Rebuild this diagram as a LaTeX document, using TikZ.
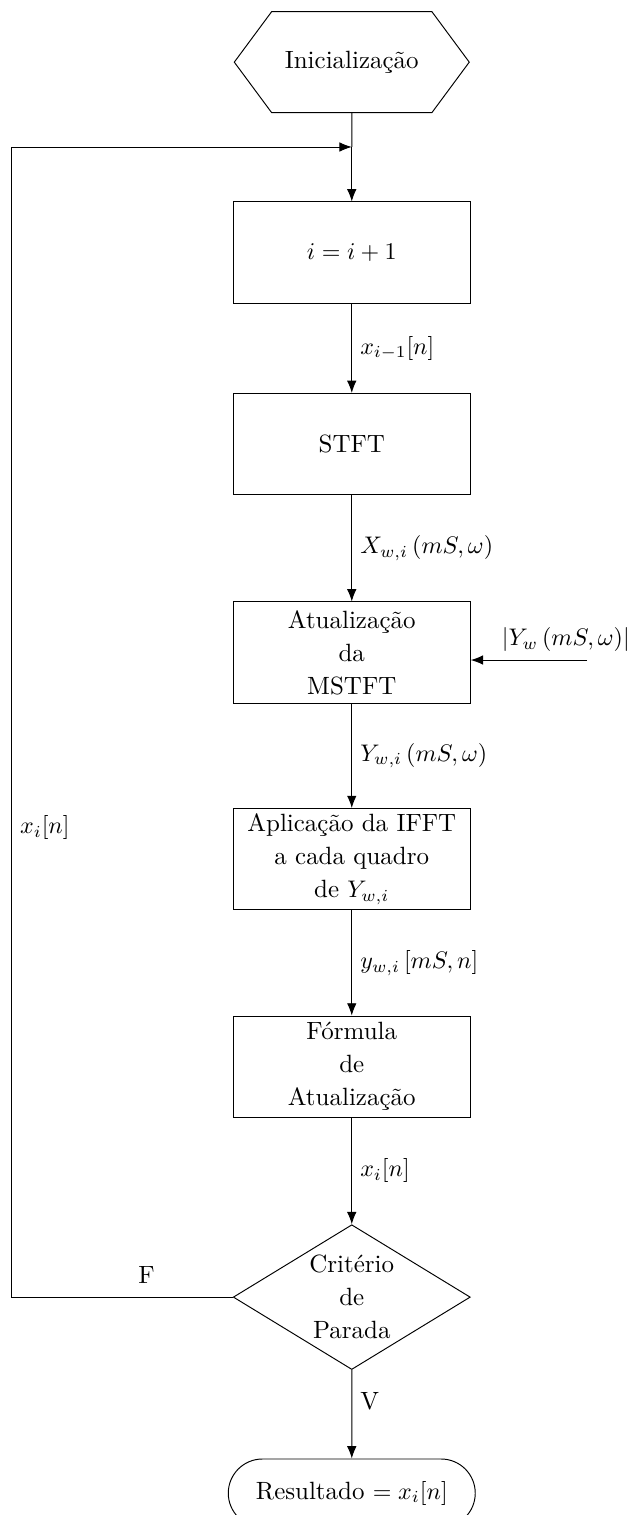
\documentclass[tikz,border=0pt]{standalone}
\usepackage{amsmath}
\usetikzlibrary{arrows.meta,shapes.geometric,shapes.misc,shapes.symbols}
\begin{document}
\begin{tikzpicture}[
  every node/.style={font=\fontsize{10.4}{13.7}\selectfont},
  box/.style={draw,align=center,minimum width=3.47cm,minimum height=1.48cm,inner sep=2pt},
  hexa/.style={draw,signal,signal to=west and east,signal pointer angle=107,
     minimum width=3.44cm,minimum height=1.48cm},
  dec/.style={draw,diamond,aspect=1.64,align=center,minimum width=3.47cm,
     minimum height=2.12cm,inner sep=0pt},
  term/.style={draw,rounded rectangle,minimum width=3.85cm,minimum height=1cm},
  arr/.style={-{Latex[length=1.8mm,width=1.4mm]}}]
\useasboundingbox (0,0) rectangle (9.327,-22.18);
\node[hexa] (init) at (5.15,-0.91) {Inicialização};
\node[box] (inc) at (5.15,-3.697) {$i=i+1$};
\node[box] (stft) at (5.15,-6.50) {STFT};
\node[box] (mstft) at (5.15,-9.553) {Atualização\\da\\MSTFT};
\node[box] (ifft) at (5.15,-12.577) {Aplicação da IFFT\\a cada quadro\\de $Y_{w,i}$};
\node[box] (upd) at (5.15,-15.615) {Fórmula\\de\\Atualização};
\node[dec] (crit) at (5.15,-18.99) {Critério\\de\\Parada};
\node[term] (res) at (5.15,-21.86) {Resultado $=x_i[n]$};
\coordinate (join) at (5.15,-2.152);
\coordinate (back) at (0.17,-2.152);
\coordinate (left) at (0.17,-18.99);
\coordinate (mag) at (8.594,-9.663);
\draw (init)--(join); \draw[arr] (join)--(inc);
\draw[arr] (inc)--node[right]{$x_{i-1}[n]$}(stft);
\draw[arr] (stft)--node[right]{$X_{w,i}\left(mS,\omega\right)$}(mstft);
\draw[arr] (mstft)--node[right]{$Y_{w,i}\left(mS,\omega\right)$}(ifft);
\draw[arr] (ifft)--node[right]{$y_{w,i}\left[mS,n\right]$}(upd);
\draw[arr] (upd)--node[right]{$x_i[n]$}(crit);
\draw[arr] (crit)--node[right,pos=0.35]{V}(res);
\draw[arr] (crit.west)--node[above=2pt,pos=0.39]{F}(left)--node[right,pos=0.408]{$x_i[n]$}(back)--(join);
\draw[arr] (mag) node[above,xshift=-0.31cm]{$\left|Y_w\left(mS,\omega\right)\right|$}--(mag -| mstft.east);
\end{tikzpicture}
\end{document}
